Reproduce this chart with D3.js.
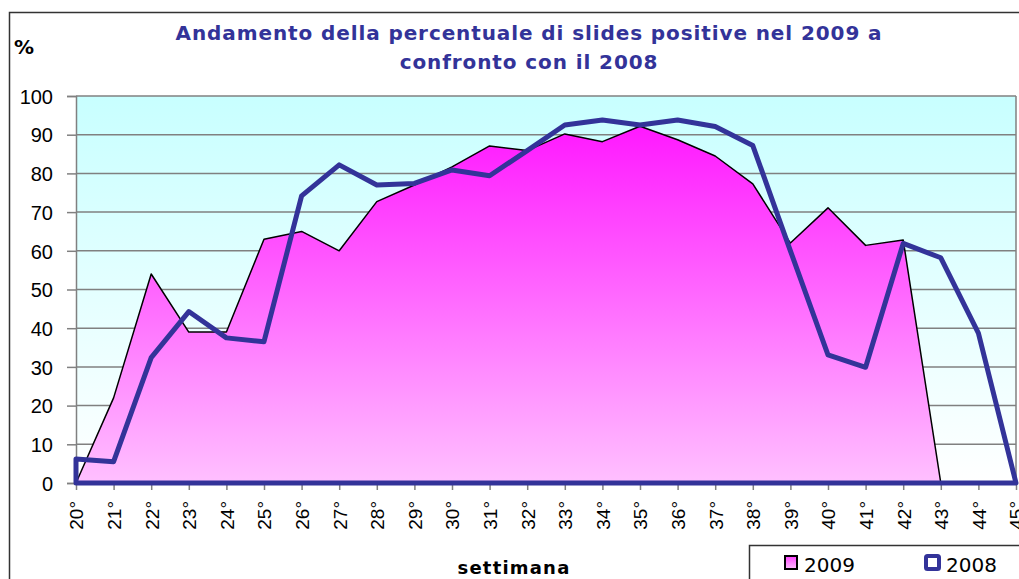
<!DOCTYPE html>
<html>
  <head>
    <meta charset="utf-8">
    <title>Slides positive 2009 vs 2008</title>
    <script src="https://d3js.org/d3.v7.min.js"></script>
    <style>
      body { margin: 0; background: white; }
      svg { display: block; font-family: "DejaVu Sans", Verdana, sans-serif; }
      .grid line { stroke: #808080; stroke-width: 1.5; }
      .axis path, .axis line { stroke: #808080; stroke-width: 1.5; }
      .axis text { fill: #000; }
    </style>
  </head>
  <body>
    <svg id="chart" width="1019" height="579"></svg>
    <script>
      // data
      const weeks = d3.range(20, 46);
      const values2009 = [0, 22, 54, 39, 39, 63, 65, 60, 72.7, 77, 81.7, 87.1, 85.9, 90.2, 88.2, 92.2,
        88.7, 84.5, 77.3, 62, 71.1, 61.4, 62.8, 0, 0, 0];
      const values2008 = [6.2, 5.5, 32.4, 44.3, 37.5, 36.5, 74.2, 82.2, 77, 77.4, 80.9, 79.4, 85.9, 92.5,
        93.8, 92.5, 93.8, 92.1, 87.2, 60, 33.1, 29.9, 61.9, 58.2, 38.7, 0];
      const yTicks = d3.range(0, 101, 10);
      const titleLines = ["Andamento della percentuale di slides positive nel 2009 a", "confronto con il 2008"];

      const svg = d3.select("#chart");
      const plotLeft = 76, plotRight = 1016, plotTop = 96, plotBottom = 483;

      const x = d3.scaleLinear().domain([20, 45]).range([plotLeft, plotRight]);
      const y = d3.scaleLinear().domain([0, 100]).range([plotBottom, plotTop]);

      const defs = svg.append("defs");
      const bg = defs.append("linearGradient").attr("id", "bgGrad")
        .attr("x1", 0).attr("y1", 0).attr("x2", 0).attr("y2", 1);
      bg.append("stop").attr("offset", "0%").attr("stop-color", "#c8ffff");
      bg.append("stop").attr("offset", "100%").attr("stop-color", "#ffffff");
      const pink = defs.append("linearGradient").attr("id", "pinkGrad")
        .attr("gradientUnits", "userSpaceOnUse")
        .attr("x1", 0).attr("y1", y(92)).attr("x2", 0).attr("y2", y(0));
      pink.append("stop").attr("offset", "0%").attr("stop-color", "#ff19ff");
      pink.append("stop").attr("offset", "100%").attr("stop-color", "#ffc0ff");
      const pinkSmall = defs.append("linearGradient").attr("id", "pinkSmall")
        .attr("x1", 0).attr("y1", 0).attr("x2", 0).attr("y2", 1);
      pinkSmall.append("stop").attr("offset", "0%").attr("stop-color", "#ff40ff");
      pinkSmall.append("stop").attr("offset", "100%").attr("stop-color", "#ffc0ff");

      // outer chart border
      svg.append("rect")
        .attr("x", 9.5).attr("y", 12.5).attr("width", 1040).attr("height", 600)
        .attr("fill", "white").attr("stroke", "#333").attr("stroke-width", 1.5);

      // plot background
      svg.append("rect")
        .attr("x", plotLeft).attr("y", plotTop).attr("width", plotRight - plotLeft).attr("height", plotBottom - plotTop)
        .attr("fill", "url(#bgGrad)");

      // gridlines
      svg.append("g").attr("class", "grid")
        .selectAll("line").data(yTicks.slice(1))
        .join("line")
          .attr("x1", plotLeft).attr("x2", plotRight)
          .attr("y1", d => y(d)).attr("y2", d => y(d));
      svg.append("line")
        .attr("x1", plotRight).attr("x2", plotRight).attr("y1", plotTop).attr("y2", plotBottom)
        .attr("stroke", "#808080").attr("stroke-width", 1.5);

      // 2009 area
      const pts2009 = weeks.map((w, i) => [w, values2009[i]]);
      svg.append("path")
        .datum(pts2009)
        .attr("fill", "url(#pinkGrad)")
        .attr("stroke", "#000")
        .attr("stroke-width", 1.5)
        .attr("stroke-linejoin", "round")
        .attr("d", d3.area().x(d => x(d[0])).y0(y(0)).y1(d => y(d[1])));

      // axes
      const yAxis = svg.append("g").attr("class", "axis")
        .attr("transform", `translate(${plotLeft},0)`)
        .call(d3.axisLeft(y).tickValues(yTicks).tickSize(9).tickPadding(14));
      yAxis.select(".domain").attr("stroke", "#222").attr("stroke-width", 1);
      yAxis.selectAll("text").style("font-size", "20px").attr("dy", "0.36em");

      const xAxis = svg.append("g").attr("class", "axis")
        .attr("transform", `translate(0,${plotBottom})`)
        .call(d3.axisBottom(x).tickValues(weeks).tickSize(7).tickFormat(d => d + "°"));
      xAxis.select(".domain").remove();
      xAxis.selectAll("text")
        .style("font-size", "19px")
        .attr("text-anchor", "end")
        .attr("transform", "rotate(-90)")
        .attr("x", -18).attr("y", 0).attr("dy", "0.36em");

      // 2008 area, no fill, thick border
      const pts2008 = weeks.map((w, i) => [w, values2008[i]]);
      svg.append("path")
        .datum(pts2008)
        .attr("fill", "none")
        .attr("stroke", "#333399")
        .attr("stroke-width", 5)
        .attr("stroke-linejoin", "round")
        .attr("d", d3.area().x(p => x(p[0])).y0(y(0)).y1(p => y(p[1])));

      // titles
      const title = svg.append("text")
        .attr("fill", "#333399").attr("font-weight", "bold").attr("font-size", "20px")
        .attr("text-anchor", "middle");
      title.selectAll("tspan").data(titleLines)
        .join("tspan")
          .attr("x", 529)
          .attr("y", (d, i) => 40 + i * 29)
          .attr("letter-spacing", "0.9px")
          .text(d => d);
      svg.append("text")
        .attr("x", 14).attr("y", 54)
        .attr("font-weight", "bold").attr("font-size", "20px")
        .text("%");
      svg.append("text")
        .attr("x", 514).attr("y", 574)
        .attr("text-anchor", "middle")
        .attr("font-weight", "bold").attr("font-size", "18px")
        .attr("letter-spacing", "1.2px")
        .text("settimana");

      // legend
      const legend = svg.append("g");
      legend.append("rect")
        .attr("x", 749.5).attr("y", 545.5).attr("width", 300).attr("height", 60)
        .attr("fill", "white").attr("stroke", "#333").attr("stroke-width", 1.5);
      legend.append("rect")
        .attr("x", 785).attr("y", 556).attr("width", 12).attr("height", 13)
        .attr("fill", "url(#pinkSmall)").attr("stroke", "#000").attr("stroke-width", 2);
      legend.append("text").attr("x", 804).attr("y", 572).attr("font-size", "20px").text("2009");
      legend.append("rect")
        .attr("x", 926).attr("y", 556).attr("width", 13).attr("height", 13)
        .attr("fill", "white").attr("stroke", "#333399").attr("stroke-width", 4).attr("rx", 1.5);
      legend.append("text").attr("x", 946).attr("y", 572).attr("font-size", "20px").text("2008");
    </script>
  </body>
</html>
